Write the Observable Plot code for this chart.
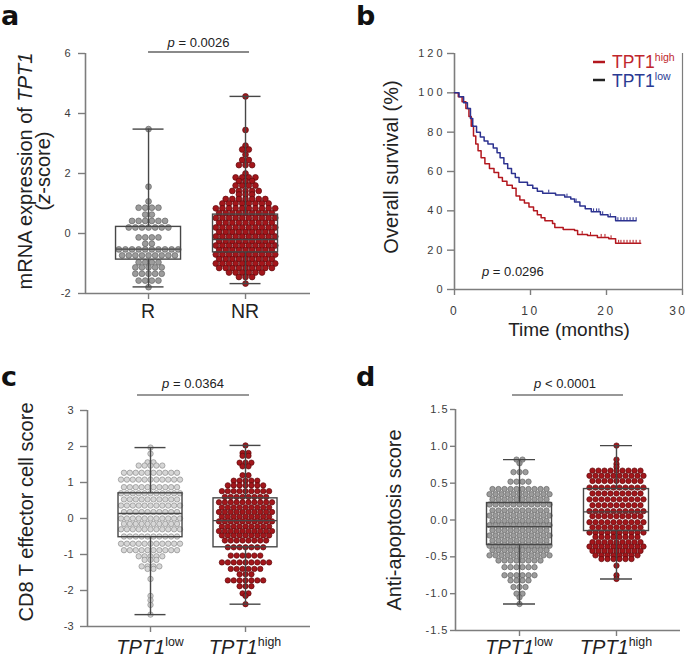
<!DOCTYPE html>
<html><head><meta charset="utf-8">
<script src="https://cdn.jsdelivr.net/npm/d3@7"></script>
<script src="https://cdn.jsdelivr.net/npm/@observablehq/plot@0.6"></script>
<style>
body{margin:0;background:#fff;}
#fig{position:relative;width:688px;height:658px;overflow:hidden;background:#fff;}
#fig svg{position:absolute;overflow:visible;}
</style></head><body><div id="fig"></div>
<script>
// ---------------- DATA ----------------
// Panel a: rows of the dot plot as [value, number of dots]
const aCategories = ["R", "NR"];
const aRRows = [[3.48,1],[1.56,1],[1.07,1],[0.86,4],[0.63,2],[0.42,6],[0.2,7],[-0.13,4],[-0.34,2],[-0.53,10],[-0.73,9],[-0.96,4],[-1.13,5],[-1.34,5],[-1.57,4],[-1.79,1]];
const aNRRows = [[4.57,1],[3.45,1],[2.93,1],[2.8,2],[2.63,1],[2.45,2],[2.28,3],[2.0,1],[1.87,4],[1.75,3],[1.6,4],[1.42,5],[1.3,3],[1.15,7],[1.0,8],[0.84,10],[0.68,9],[0.52,10],[0.36,9],[0.2,10],[0.05,9],[-0.1,10],[-0.25,9],[-0.4,10],[-0.55,9],[-0.7,10],[-0.85,9],[-1.0,10],[-1.15,9],[-1.3,6],[-1.45,3],[-1.67,1]];
// box stats: [lower whisker, Q1, median, Q3, upper whisker]
const aRStats = [-1.78, -0.87, -0.52, 0.22, 3.48];
const aNRStats = [-1.67, -0.63, -0.2, 0.63, 4.57];
const aYTicks = [-2, 0, 2, 4, 6];
const aPValue = "0.0026";

// Panel b: Kaplan–Meier steps (time in months, survival %)
const kmHighT = [0,0.5,1.0,1.5,1.9,2.2,2.5,2.8,3.1,3.5,4.0,4.6,5.2,5.8,6.3,6.9,7.6,8.1,8.6,9.2,9.8,10.4,10.9,11.4,11.9,12.9,13.2,14.3,15.8,16.2,17.5,18.8,20.3,21.2,24.5];
const kmHighS = [100,98,95.5,92,88,83,78,74,70.5,67,64,61.5,59.5,57,55,53,51.5,47.5,45.5,44,42,40,38,36.5,35,33.5,31.5,30.5,30,28,27.5,26.5,25.8,23.5,23.5];
const kmLowT = [0,0.6,1.2,1.7,2.1,2.4,2.9,3.4,3.9,4.4,5.1,5.6,6.0,6.5,7.0,7.5,8.0,8.5,9.6,10.3,10.9,11.6,13.3,14.5,15.3,15.8,16.5,17.2,18.0,19.2,20.2,21.2,23.9];
const kmLowS = [100,98,95,92,87,83,80,77.5,75.5,74,72,69.5,67,64,61.5,59,57,54.5,53,51.5,50,49,48,47,46,44.5,42.5,41,39.5,38,37,35,35];
const censorHighT = [16.8,17.9,19.3,19.8,20.6,21.6,21.9,22.3,22.7,23.1,23.5,23.9,24.4];
const censorLowT = [12.4,14.8,16.0,18.3,18.7,19.0,19.5,20.5,21.5,21.9,22.3,22.7,23.1,23.5,23.9];
const bYTicks = [0, 20, 40, 60, 80, 100, 120];
const bXTicks = [0, 10, 20, 30];
const bPValue = "0.0296";

// Panel c
const cLowRows = [[1.97,1],[1.8,1],[1.56,2],[1.47,5],[1.27,10],[1.08,11],[0.87,10],[0.7,11],[0.53,10],[0.36,11],[0.18,10],[0.0,11],[-0.15,10],[-0.3,11],[-0.5,10],[-0.7,11],[-0.88,10],[-1.05,5],[-1.15,3],[-1.33,4],[-1.4,2],[-1.68,1],[-2.15,1],[-2.27,1],[-2.4,1],[-2.67,1]];
const cHighRows = [[2.03,1],[1.82,2],[1.74,2],[1.55,3],[1.45,2],[1.2,2],[1.05,5],[0.92,7],[0.76,9],[0.6,8],[0.45,10],[0.31,9],[0.18,10],[0.05,9],[-0.08,10],[-0.22,9],[-0.35,10],[-0.47,9],[-0.61,8],[-0.8,7],[-1.03,6],[-1.22,9],[-1.4,6],[-1.55,3],[-1.72,7],[-1.88,3],[-2.08,2],[-2.15,1],[-2.38,1]];
const cLowStats = [-2.67, -0.52, 0.14, 0.70, 1.97];
const cHighStats = [-2.38, -0.80, -0.06, 0.56, 2.03];
const cYTicks = [-3, -2, -1, 0, 1, 2, 3];
const cPValue = "0.0364";

// Panel d
const dLowRows = [[0.82,2],[0.77,1],[0.65,3],[0.52,4],[0.42,10],[0.35,11],[0.28,10],[0.21,11],[0.13,10],[0.06,11],[-0.01,10],[-0.07,11],[-0.14,10],[-0.21,11],[-0.28,10],[-0.35,11],[-0.41,10],[-0.48,11],[-0.55,8],[-0.64,6],[-0.75,6],[-0.82,4],[-0.91,3],[-1.0,2],[-1.05,1],[-1.14,1]];
const dHighRows = [[1.01,1],[0.82,1],[0.76,1],[0.72,1],[0.67,9],[0.6,10],[0.53,9],[0.44,10],[0.36,9],[0.28,10],[0.2,9],[0.12,10],[0.05,9],[-0.03,10],[-0.1,9],[-0.17,10],[-0.23,8],[-0.3,9],[-0.36,10],[-0.42,9],[-0.48,8],[-0.53,6],[-0.62,1],[-0.75,1],[-0.8,1]];
const dLowStats = [-1.14, -0.34, -0.09, 0.23, 0.82];
const dHighStats = [-0.80, -0.15, 0.11, 0.42, 1.01];
const dYTicks = [-1.5, -1.0, -0.5, 0, 0.5, 1.0, 1.5];
const dPValue = "0.0001";

// ---------------- DRAWING ----------------
const FONT = '"Liberation Sans", Arial, Helvetica, sans-serif';
const LETTERFONT = '"DejaVu Sans", "Liberation Sans", Arial, sans-serif';
const AXIS = "#7d7d7d";
const TICKTXT = "#3c3c3c";
const RED = "#a3161b", REDSTROKE = "#5e0a0d";
const fig = document.getElementById("fig");

function place(svg, left, top) { svg.style.left = left + "px"; svg.style.top = top + "px"; fig.appendChild(svg); }

function swarm(rows, c, s) {
  const out = [];
  for (const [v, n] of rows) for (let i = 0; i < n; i++) out.push({x: c + (i - (n - 1) / 2) * s, y: v});
  return out;
}

function txt(svg, x, y, parts, {size = 12, anchor = "start", rotate = 0, weight = "normal", fill = "#222", ls = null, family = FONT, supScale = 0.62} = {}) {
  const t = d3.select(svg).append("text")
    .attr("transform", `translate(${x},${y})` + (rotate ? ` rotate(${rotate})` : ""))
    .attr("text-anchor", anchor).attr("font-size", size).attr("font-family", family)
    .attr("font-weight", weight).attr("fill", fill);
  if (ls != null) t.attr("letter-spacing", ls);
  for (const p of [].concat(parts)) {
    const o = typeof p === "string" ? {t: p} : p;
    const sp = t.append("tspan").text(o.t);
    if (o.i) sp.attr("font-style", "italic");
    if (o.sup) sp.attr("font-size", size * supScale).attr("dy", -size * 0.4);
  }
  return t;
}

function letter(svg, x, y, l) { txt(svg, x, y, l, {size: 27, weight: "bold", fill: "#111", family: LETTERFONT}); }

function boxPanel(o) {
  const fw = o.width - o.mL - o.mR, fh = o.height - o.mT - o.mB;
  const [x0, x1] = o.xDomain, [y0, y1] = o.yDomain;
  const ppu = fw / (x1 - x0);
  const px = v => o.mL + (v - x0) * ppu;
  const py = v => o.mT + (y1 - v) / (y1 - y0) * fh;
  const boxes = o.groups.map((g, i) => ({c: i + 1, min: g.stats[0], q1: g.stats[1], med: g.stats[2], q3: g.stats[3], max: g.stats[4]}));
  const bh = o.boxHalfPx / ppu, ch = o.capHalfPx / ppu;
  const bs = {stroke: "#474747", strokeWidth: 1.4};
  const svg = Plot.plot({
    width: o.width, height: o.height,
    marginLeft: o.mL, marginRight: o.mR, marginTop: o.mT, marginBottom: o.mB,
    x: {domain: o.xDomain, axis: null},
    y: {domain: o.yDomain, axis: null},
    style: {fontFamily: FONT, background: "none", overflow: "visible"},
    marks: [
      Plot.axisY({ticks: o.yTicks, tickFormat: o.yFmt, tickSize: o.tickSize ?? 7, tickPadding: o.tickPad, fontSize: o.tickFont, stroke: AXIS, strokeWidth: 1.4, fill: TICKTXT, label: null}),
      Plot.axisX({ticks: [1, 2], tickFormat: () => "", tickSize: 6, stroke: AXIS, strokeWidth: 1.4, label: null}),
      Plot.ruleX([x0], {y1: y0, y2: y1, stroke: AXIS, strokeWidth: 1.6}),
      Plot.ruleY([y0], {x1: x0, x2: x1, stroke: AXIS, strokeWidth: 1.6}),
      ...o.groups.map((g, i) => Plot.dot(swarm(g.rows, i + 1, o.spacing / ppu), {x: "x", y: "y", r: o.r, fill: g.fill, stroke: g.stroke, strokeWidth: 0.7})),
      Plot.ruleX(boxes, {x: "c", y1: "q3", y2: "max", ...bs}),
      Plot.ruleX(boxes, {x: "c", y1: "min", y2: "q1", ...bs}),
      Plot.ruleY(boxes, {y: "max", x1: d => d.c - ch, x2: d => d.c + ch, ...bs}),
      Plot.ruleY(boxes, {y: "min", x1: d => d.c - ch, x2: d => d.c + ch, ...bs}),
      Plot.rect(boxes, {x1: d => d.c - bh, x2: d => d.c + bh, y1: "q1", y2: "q3", fill: "none", ...bs}),
      Plot.ruleY(boxes, {y: "med", x1: d => d.c - bh, x2: d => d.c + bh, ...bs})
    ]
  });
  if (o.tickLs) d3.select(svg).selectAll('[aria-label="y-axis tick label"] text').attr("letter-spacing", o.tickLs);
  return {svg, px, py};
}

function pBracket(svg, x1, x2, yLine, yText, xText, pv, op, color, w) {
  d3.select(svg).append("line").attr("x1", x1).attr("x2", x2).attr("y1", yLine).attr("y2", yLine)
    .attr("stroke", color).attr("stroke-width", w);
  txt(svg, xText, yText, [{t: "p", i: true}, ` ${op} ${pv}`], {size: 13, anchor: "middle", fill: "#222"});
}

function tptLabel(c) { return [{t: "TPT1", i: true}, {t: c, sup: true}]; }

// ---- Panel a ----
{
  const P = boxPanel({
    width: 340, height: 320, mL: 85, mR: 30, mT: 53, mB: 27,
    xDomain: [0.35, 2.67], yDomain: [-2, 6], yTicks: aYTicks, yFmt: d => String(d),
    tickPad: 8, tickFont: 11, r: 2.9, spacing: 6.6, boxHalfPx: 32.5, capHalfPx: 15.5,
    groups: [
      {rows: aRRows, stats: aRStats, fill: "#9c9c9c", stroke: "#666"},
      {rows: aNRRows, stats: aNRStats, fill: RED, stroke: REDSTROKE}
    ]
  });
  place(P.svg, 0, 0);
  letter(P.svg, 1, 25, "a");
  txt(P.svg, 32, 171, ["mRNA expression of ", {t: "TPT1", i: true}], {size: 20, anchor: "middle", rotate: -90});
  txt(P.svg, 50, 171, ["(", {t: "z", i: true}, "-score)"], {size: 20, anchor: "middle", rotate: -90});
  aCategories.forEach((c, i) => txt(P.svg, P.px(i + 1), 318, c, {size: 19.5, anchor: "middle"}));
  pBracket(P.svg, P.px(1), P.px(2) + 4, 52, 47, P.px(1.5) + 2, aPValue, "=", "#8a8a8a", 2);
}

// ---- Panel b ----
{
  const W = 348, H = 320, mL = 114, mR = 6, mT = 53, mB = 31;
  const high = kmHighT.map((t, i) => ({t, s: kmHighS[i]}));
  const low = kmLowT.map((t, i) => ({t, s: kmLowS[i]}));
  const at = (T, S, ct) => { let s = S[0]; for (let i = 0; i < T.length; i++) if (T[i] <= ct) s = S[i]; return s; };
  const cH = censorHighT.map(t => ({t, s: at(kmHighT, kmHighS, t)}));
  const cL = censorLowT.map(t => ({t, s: at(kmLowT, kmLowS, t)}));
  const KMRED = "#b3171e", KMBLUE = "#2c3290";
  const svg = Plot.plot({
    width: W, height: H, marginLeft: mL, marginRight: mR, marginTop: mT, marginBottom: mB,
    x: {domain: [0, 30], axis: null}, y: {domain: [0, 120], axis: null},
    style: {fontFamily: FONT, background: "none", overflow: "visible"},
    marks: [
      Plot.axisY({ticks: bYTicks, tickSize: 7, tickPadding: 2, fontSize: 11, stroke: AXIS, strokeWidth: 1.4, fill: TICKTXT, label: null}),
      Plot.axisX({ticks: bXTicks, tickSize: 6, tickPadding: 11, fontSize: 12, stroke: AXIS, strokeWidth: 1.4, fill: TICKTXT, label: null}),
      Plot.ruleX([0], {y1: 0, y2: 120, stroke: AXIS, strokeWidth: 1.6}),
      Plot.ruleX([30], {y1: 0, y2: 120, stroke: AXIS, strokeWidth: 1.2}),
      Plot.ruleY([0], {x1: 0, x2: 30, stroke: AXIS, strokeWidth: 1.6}),
      Plot.line(high, {x: "t", y: "s", curve: "step-after", stroke: KMRED, strokeWidth: 1.5}),
      Plot.line(low, {x: "t", y: "s", curve: "step-after", stroke: KMBLUE, strokeWidth: 1.5}),
      Plot.ruleX(cH, {x: "t", y1: "s", y2: d => d.s + 1.5, stroke: KMRED, strokeWidth: 1}),
      Plot.ruleX(cL, {x: "t", y1: "s", y2: d => d.s + 1.5, stroke: KMBLUE, strokeWidth: 1})
    ]
  });
  d3.select(svg).selectAll('[aria-label="y-axis tick label"] text').attr("letter-spacing", 3);
  const xl = d3.select(svg).selectAll('[aria-label="x-axis tick label"] text').attr("letter-spacing", 2.5);
  // the last label sits at the right edge of the figure: keep it inside
  const lastLbl = xl.nodes()[xl.size() - 1];
  if (lastLbl) d3.select(lastLbl).attr("text-anchor", "end").attr("dx", 5);
  place(svg, 340, 0);
  letter(svg, 16, 25, "b");
  txt(svg, 58, 167, "Overall survival (%)", {size: 20, anchor: "middle", rotate: -90});
  txt(svg, 229, 336, "Time (months)", {size: 19, anchor: "middle"});
  txt(svg, 142, 276, [{t: "p", i: true}, " = " + bPValue], {size: 13});
  const g = d3.select(svg);
  g.append("line").attr("x1", 253).attr("x2", 265).attr("y1", 62).attr("y2", 62).attr("stroke", KMRED).attr("stroke-width", 2.5);
  g.append("line").attr("x1", 253).attr("x2", 265).attr("y1", 80).attr("y2", 80).attr("stroke", "#222").attr("stroke-width", 2.5);
  txt(svg, 272, 68, ["TPT1", {t: "high", sup: true}], {size: 17.5, fill: "#c0262d", supScale: 0.6});
  txt(svg, 272, 87, ["TPT1", {t: "low", sup: true}], {size: 17.5, fill: "#2a3a93", supScale: 0.6});
}

// ---- Panel c ----
{
  const P = boxPanel({
    width: 340, height: 338, mL: 87, mR: 30, mT: 90, mB: 32,
    xDomain: [0.3368, 2.684], yDomain: [-3, 3], yTicks: cYTicks, yFmt: d => String(d),
    tickPad: 7, tickFont: 11, r: 2.7, spacing: 5.9, boxHalfPx: 32, capHalfPx: 15.5,
    groups: [
      {rows: cLowRows, stats: cLowStats, fill: "#d6d6d6", stroke: "#8c8c8c"},
      {rows: cHighRows, stats: cHighStats, fill: RED, stroke: REDSTROKE}
    ]
  });
  place(P.svg, 0, 320);
  letter(P.svg, 1, 66, "c");
  txt(P.svg, 33, 192, "CD8 T effector cell score", {size: 20, anchor: "middle", rotate: -90});
  ["low", "high"].forEach((c, i) => txt(P.svg, P.px(i + 1), 334, tptLabel(c), {size: 20, anchor: "middle"}));
  pBracket(P.svg, P.px(1) - 13, P.px(2) + 4, 75, 68, 193, cPValue, "=", "#333", 1.1);
}

// ---- Panel d ----
{
  const P = boxPanel({
    width: 348, height: 338, mL: 115, mR: 8, mT: 89, mB: 28,
    xDomain: [0.34, 2.66], yDomain: [-1.5, 1.5], yTicks: dYTicks, yFmt: d => d.toFixed(1),
    tickSize: 5, tickPad: 2, tickFont: 11, tickLs: 1, r: 2.7, spacing: 6.0, boxHalfPx: 32.5, capHalfPx: 16,
    groups: [
      {rows: dLowRows, stats: dLowStats, fill: "#9c9c9c", stroke: "#666"},
      {rows: dHighRows, stats: dHighStats, fill: RED, stroke: REDSTROKE}
    ]
  });
  place(P.svg, 340, 320);
  letter(P.svg, 16, 66, "d");
  txt(P.svg, 61, 200, "Anti-apoptosis score", {size: 20, anchor: "middle", rotate: -90});
  ["low", "high"].forEach((c, i) => txt(P.svg, P.px(i + 1), 334, tptLabel(c), {size: 20, anchor: "middle"}));
  pBracket(P.svg, P.px(1) - 7, P.px(2) + 7, 75, 68, 225, dPValue, "<", "#333", 1.1);
}
</script></body></html>
